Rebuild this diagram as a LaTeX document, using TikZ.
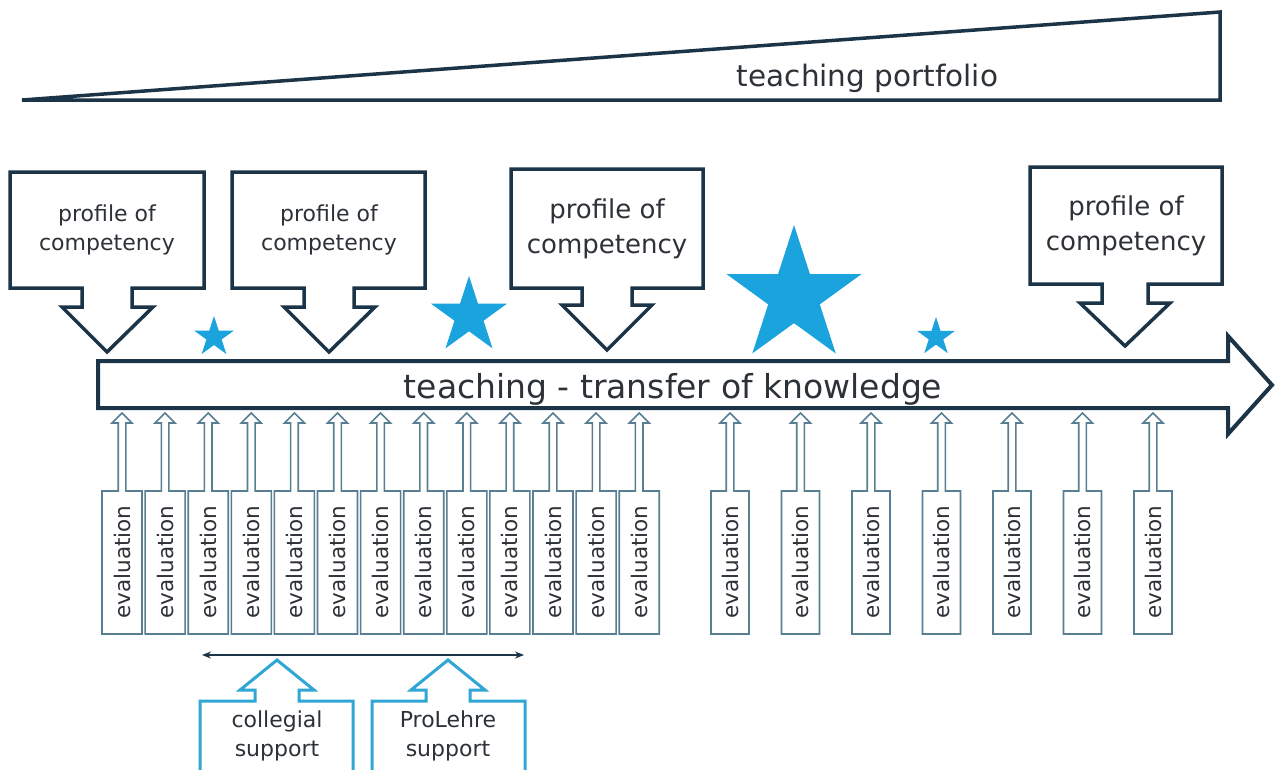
\documentclass[tikz,border=0pt]{standalone}
\usepackage{fontspec}
\setmainfont{DejaVu Sans}
\usetikzlibrary{shapes.geometric,arrows.meta}
\definecolor{navy}{RGB}{28,52,72}
\definecolor{txtgray}{RGB}{45,50,56}
\definecolor{starblue}{RGB}{27,163,221}
\definecolor{evalblue}{RGB}{88,126,145}
\definecolor{supblue}{RGB}{47,166,212}
\begin{document}
\begin{tikzpicture}[x=1pt,y=-1pt,
  frame/.style={draw=navy,line width=3.5pt,line join=miter,fill=white},
  lbl/.style={text=txtgray,align=center,inner sep=0pt},
  evalline/.style={draw=evalblue,line width=1.6pt,fill=white,line join=miter},
  evaltxt/.style={text=txtgray,inner sep=0pt,rotate=90,font=\fontsize{21.5}{25}\selectfont},
  supline/.style={draw=supblue,line width=3pt,line join=miter},
  starnode/.style={star,star points=5,star point ratio=2.618,fill=starblue,inner sep=0pt,draw=none}]
\useasboundingbox (0,0) rectangle (1276,769);
\clip (0,0) rectangle (1276,769);
\fill[white] (0,0) rectangle (1276,769);

% teaching portfolio wedge
\draw[frame,fill=none] (22,100) -- (1220,100) -- (1220,12) -- cycle;
\node[lbl,anchor=base,font=\fontsize{29.5}{34}\selectfont] (portfolio) at (867.5,86) {teaching portfolio};

% main arrow
\draw[frame,line width=4pt] (98,361) -- (1228,361) -- (1228,336) -- (1272,385) -- (1228,434) -- (1228,408) -- (98,408) -- cycle;
\node[lbl,anchor=base,font=\fontsize{33}{37}\selectfont] (teach) at (673,398) {teaching - transfer of knowledge};

% profile callouts
\draw[frame] (10,172) -- (204,172) -- (204,288) -- (132,288) -- (132,307) -- (153,307) -- (107,352) -- (62,307) -- (82,307) -- (82,288) -- (10,288) -- cycle;
\node[lbl,font=\fontsize{22}{29}\selectfont] (p1) at (107,230) {profile of\\competency};

\draw[frame] (232,172) -- (425,172) -- (425,288) -- (354,288) -- (354,307) -- (375,307) -- (329,352) -- (284,307) -- (304,307) -- (304,288) -- (232,288) -- cycle;
\node[lbl,font=\fontsize{22}{29}\selectfont] (p2) at (329,230) {profile of\\competency};

\draw[frame] (511,169) -- (703,169) -- (703,288) -- (632,288) -- (632,305) -- (652,305) -- (607,350) -- (562,305) -- (582,305) -- (582,288) -- (511,288) -- cycle;
\node[lbl,font=\fontsize{26}{35}\selectfont] (p3) at (607,229) {profile of\\competency};

\draw[frame] (1030,167) -- (1222,167) -- (1222,284) -- (1148,284) -- (1148,303) -- (1170,303) -- (1125,346) -- (1080,303) -- (1102,303) -- (1102,284) -- (1030,284) -- cycle;
\node[lbl,font=\fontsize{26}{35}\selectfont] (p4) at (1126,226) {profile of\\competency};

% stars
\node[starnode,minimum size=42pt] (s1) at (214,337) {};
\node[starnode,minimum size=80pt] (s2) at (469,316) {};
\node[starnode,minimum size=142pt] (s3) at (794,296) {};
\node[starnode,minimum size=40pt] (s4) at (936,337) {};

% evaluation units, left group
\foreach \cx [count=\i] in {122,165.1,208.2,251.3,294.4,337.5,380.6,423.7,466.8,509.9,553,596.1,639.2}{
  \draw[evalline] (\cx-20,634) -- (\cx-20,491) -- (\cx-3.8,491) -- (\cx-3.8,423) -- (\cx-10,423) -- (\cx,413) -- (\cx+10,423) -- (\cx+3.8,423) -- (\cx+3.8,491) -- (\cx+20,491) -- (\cx+20,634) -- cycle;
  \node[evaltxt] (eL\i) at (\cx,562) {evaluation};
}
% evaluation units, right group
\foreach \cx [count=\i] in {730,800.5,871,941.5,1012,1082.5,1153}{
  \draw[evalline] (\cx-19,634) -- (\cx-19,491) -- (\cx-3.8,491) -- (\cx-3.8,423) -- (\cx-10,423) -- (\cx,413) -- (\cx+10,423) -- (\cx+3.8,423) -- (\cx+3.8,491) -- (\cx+19,491) -- (\cx+19,634) -- cycle;
  \node[evaltxt] (eR\i) at (\cx,562) {evaluation};
}

% support span arrow
\coordinate (spanL) at (202,655);
\coordinate (spanR) at (524,655);
\draw[navy,line width=1.3pt,{Stealth[length=9pt,width=7pt]}-{Stealth[length=9pt,width=7pt]}] (spanL) -- (spanR);

% support callouts
\draw[supline] (200,780) -- (200,701) -- (255,701) -- (255,690) -- (240,690) -- (277,660) -- (314,690) -- (299,690) -- (299,701) -- (353,701) -- (353,780);
\node[lbl,font=\fontsize{22}{29}\selectfont] (col) at (277,736) {collegial\\support};

\draw[supline] (372,780) -- (372,701) -- (426,701) -- (426,690) -- (411,690) -- (448,660) -- (485,690) -- (470,690) -- (470,701) -- (525,701) -- (525,780);
\node[lbl,font=\fontsize{22}{29}\selectfont] (pro) at (448,736) {ProLehre\\support};
\end{tikzpicture}
\end{document}
